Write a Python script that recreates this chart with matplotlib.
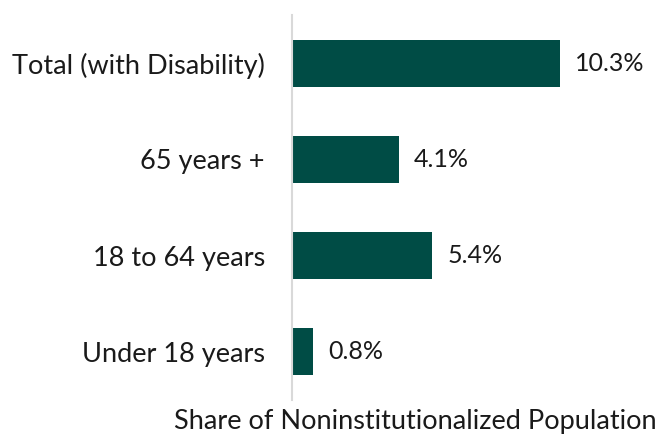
import matplotlib.pyplot as plt

categories = ['Under 18 years', '18 to 64 years', '65 years +', 'Total (with Disability)']
shares = [0.8, 5.4, 4.1, 10.3]
value_labels = ['0.8%', '5.4%', '4.1%', '10.3%']

plt.rcParams['font.family'] = ['Lato', 'DejaVu Sans']

fig = plt.figure(figsize=(6.61, 4.38), dpi=100)
ax = fig.add_axes([292/661, 38/438, 338/661, 385/438])

bars = ax.barh(range(len(categories)), shares, height=0.49, color='#004c45')
for bar, lab in zip(bars, value_labels):
    ax.text(bar.get_width() + 0.6, bar.get_y() + bar.get_height()/2, lab,
            va='center', ha='left', fontsize=18, color='#1a1a1a')

ax.set_xlim(0, 13)
ax.set_ylim(-0.5, len(categories) - 0.5)
ax.set_yticks(range(len(categories)))
ax.set_yticklabels(categories, fontsize=19.5, color='#1a1a1a')
ax.tick_params(axis='y', length=0, pad=19.5)
ax.set_xticks([])
for s in ['top', 'right', 'bottom']:
    ax.spines[s].set_visible(False)
ax.spines['left'].set_color('#d9d9d9')
ax.spines['left'].set_linewidth(1.5)

fig.text(415/661, 1 - 421/438, 'Share of Noninstitutionalized Population',
         ha='center', va='center', fontsize=19.5, color='#1a1a1a')

fig.savefig('out.png', dpi=100)
